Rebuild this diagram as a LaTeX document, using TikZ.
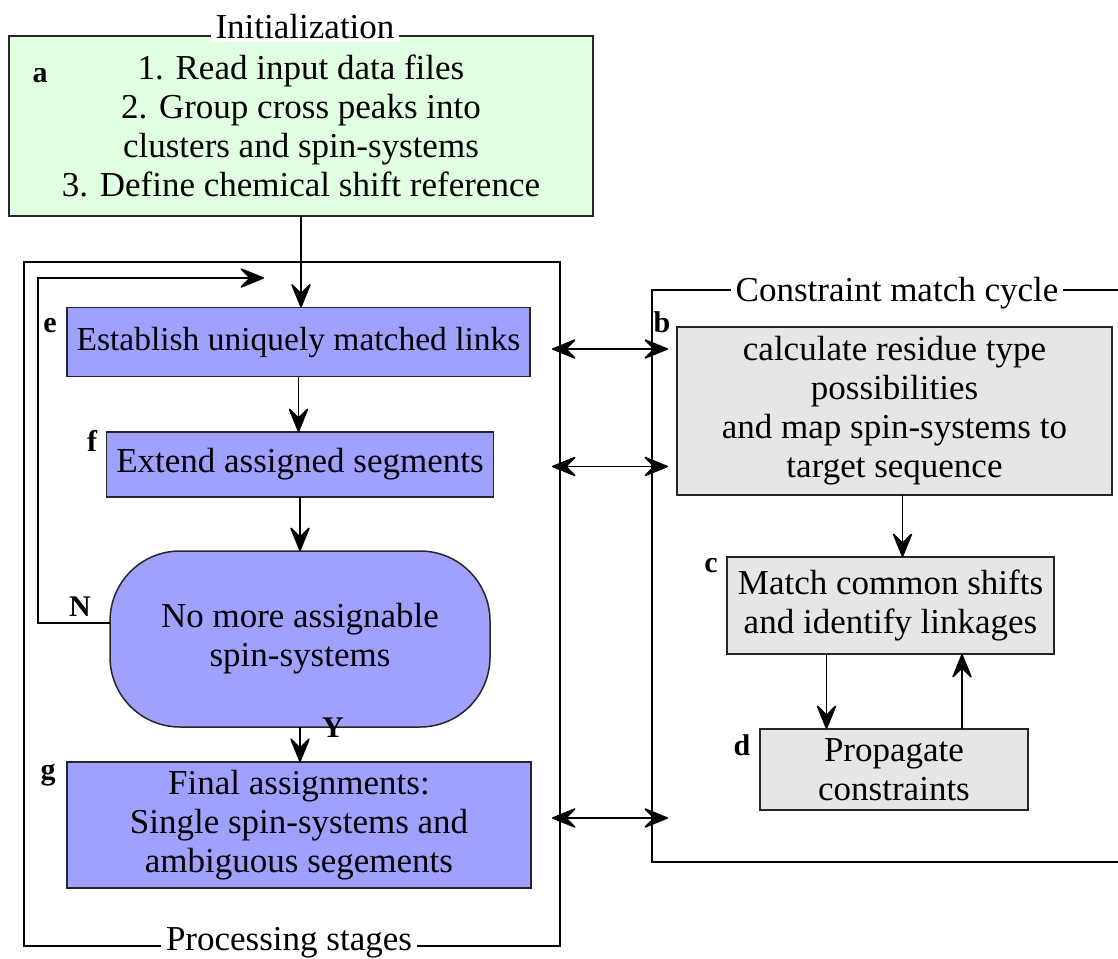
\documentclass[tikz,border=0pt]{standalone}
\usepackage{fontspec}
\setmainfont{Liberation Serif}
\usetikzlibrary{arrows.meta,calc}

\definecolor{initgreen}{HTML}{E0FFE0}
\definecolor{stageblue}{HTML}{A0A0FF}
\definecolor{cyclegray}{HTML}{E6E6E6}

\begin{document}
\begin{tikzpicture}[x=1pt,y=-1pt,
  every node/.style={inner sep=0pt, outer sep=0pt},
  frame/.style={draw=black!85, line width=1.5pt},
  txt/.style={align=center, font=\fontsize{35}{39}\selectfont},
  initbox/.style={frame, fill=initgreen, txt, minimum width=584pt, minimum height=180pt},
  stagebox/.style={frame, fill=stageblue, txt},
  cyclebox/.style={frame, fill=cyclegray, txt},
  group/.style={draw=black, line width=1.3pt, minimum width=#1},
  grouptitle/.style={fill=white, inner xsep=5pt, inner ysep=4pt, txt, anchor=base},
  tag/.style={font=\bfseries\fontsize{30}{30}\selectfont},
  arr/.style={line width=1.5pt, -{Stealth[length=27pt, width=22pt, inset=11pt, line width=1.5pt, round]}},
  dbl/.style={line width=1.5pt, {Stealth[length=27pt, width=22pt, inset=11pt, line width=1.5pt, round]}-{Stealth[length=27pt, width=22pt, inset=11pt, line width=1.5pt, round]}}
]
\useasboundingbox (0,0) rectangle (1118,958);
\fill[white] (0,0) rectangle (1118,958);
\clip (0,0) rectangle (1118,958);

% initialization block
\node[initbox] (init) at (301,126)
  {1. Read input data files\\2. Group cross peaks into\\clusters and spin-systems\\3. Define chemical shift reference};
\node[grouptitle] (inittitle) at (305,38) {Initialization};
\node[tag] (ta) at (40,76) {a};

% processing stages frame
\node[group=536pt, minimum height=684pt] (procbox) at (292,604) {};
\node[grouptitle] (proctitle) at (289,950) {Processing stages};

% constraint match cycle frame
\node[group=488pt, minimum height=572pt] (cbox) at (896,576) {};
\node[grouptitle] (ctitle) at (897,301) {Constraint match cycle};

% processing stages
\node[stagebox, minimum width=463pt, minimum height=69pt, font=\fontsize{33.5}{39}\selectfont] (e) at (298.5,342)
  {Establish uniquely matched links};
\node[stagebox, minimum width=387pt, minimum height=65pt] (f) at (300,464.5) {Extend assigned segments};
\node[stagebox, minimum width=380pt, minimum height=176pt, rounded corners=70pt] (dec) at (300,639)
  {No more assignable\\spin-systems};
\node[stagebox, minimum width=464pt, minimum height=126pt] (g) at (299,825)
  {Final assignments:\\Single spin-systems and\\ambiguous segements};
\node[tag] (te) at (50,326) {e};
\node[tag] (tf) at (92,441) {f};
\node[tag] (tg) at (48,775) {g};
\node[tag] (tn) at (80,607) {N};
\node[tag] (ty) at (333,728) {Y};

% constraint cycle steps
\node[cyclebox, minimum width=435pt, minimum height=168pt] (b) at (894.5,411)
  {calculate residue type\\possibilities\\and map spin-systems to\\target sequence};
\node[cyclebox, minimum width=327pt, minimum height=97pt] (c) at (890.5,605.5)
  {Match common shifts\\and identify linkages};
\node[cyclebox, minimum width=268pt, minimum height=81pt] (d) at (894,769.5)
  {Propagate\\constraints};
\node[tag] (tb) at (662,322) {b};
\node[tag] (tc) at (711,566) {c};
\node[tag] (td) at (742,745) {d};

% main flow
\draw[arr] (init.south) -- (init.south |- e.north);
\draw[arr] (e.south) -- (e.south |- f.north);
\draw[arr] (f.south) -- (f.south |- dec.north);
\draw[arr] (dec.south) -- (dec.south |- g.north);

% loop back from the decision
\coordinate (loopA) at (38,623);
\coordinate (loopEnd) at (264,278);
\draw[arr] (dec.west |- loopA) -- (loopA) |- (loopEnd);

% cycle flow
\draw[arr] ($(b.south)+(8,0)$) -- ($(b.south |- c.north)+(8,0)$);
\draw[arr] ($(c.south)+(-64,0)$) -- ($(c.south |- d.north)+(-64,0)$);
\draw[arr] ($(d.north)+(68,0)$) -- ($(d.north |- c.south)+(68,0)$);

% exchanges between the two frames
\draw[dbl] ($(procbox.east |- e)+(-8,7)$) -- ($(cbox.west |- e)+(16,7)$);
\draw[dbl] ($(procbox.east |- f)+(-8,2)$) -- ($(cbox.west |- f)+(16,2)$);
\draw[dbl] ($(procbox.east |- g)+(-8,-7)$) -- ($(cbox.west |- g)+(16,-7)$);
\end{tikzpicture}
\end{document}
